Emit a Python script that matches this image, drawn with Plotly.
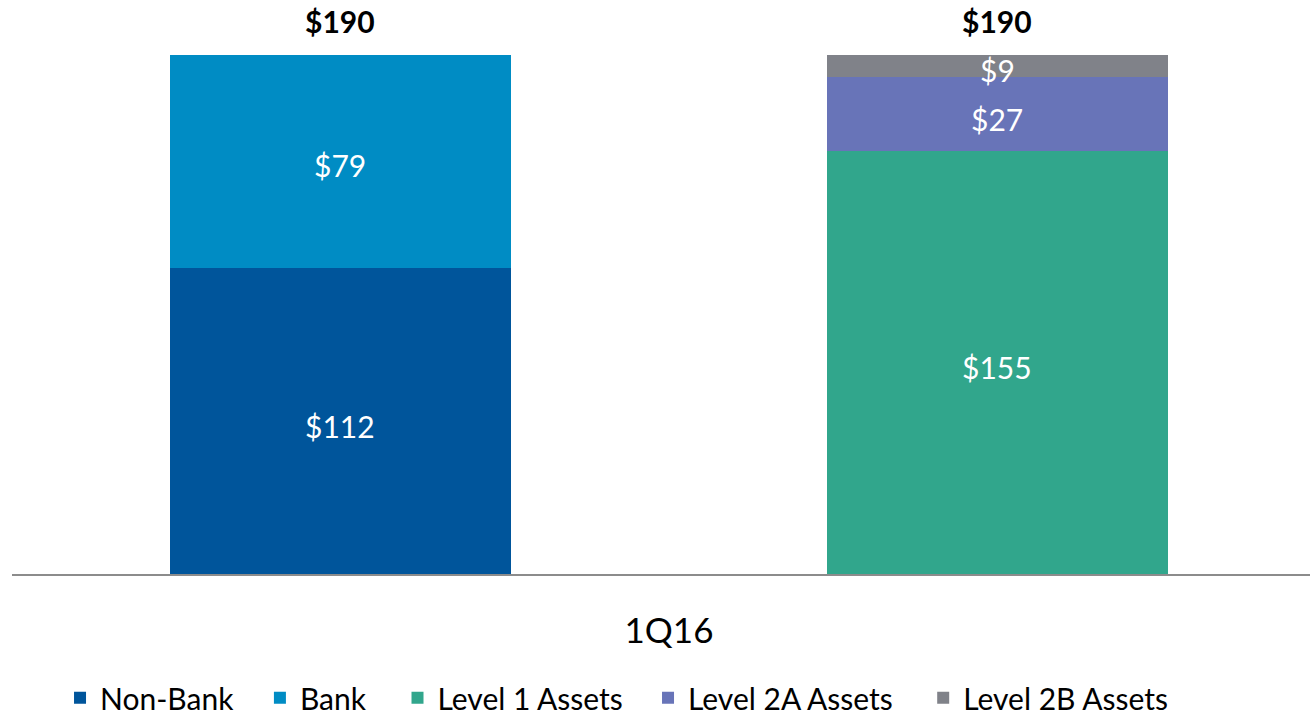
import plotly.graph_objects as go

x_label = ["1Q16"]
series = {
    "Non-Bank": [112, None],
    "Bank": [79, None],
    "Level 1 Assets": [None, 155],
    "Level 2A Assets": [None, 27],
    "Level 2B Assets": [None, 9],
}
totals = [190, 190]
colors = {
    "Non-Bank": "#00559B",
    "Bank": "#008CC4",
    "Level 1 Assets": "#31A68C",
    "Level 2A Assets": "#6874B8",
    "Level 2B Assets": "#808289",
}

FONT = "Lato"
xpos = [0, 1]
fig = go.Figure()
annotations = []
cum = [0, 0]
legend_x = [0.037, 0.191, 0.297, 0.490, 0.702]
legend_ids = ["legend", "legend2", "legend3", "legend4", "legend5"]
for k, (name, vals) in enumerate(series.items()):
    fig.add_trace(go.Bar(
        x=xpos, y=[v if v is not None else 0 for v in vals], name=name,
        marker=dict(color=colors[name], line=dict(width=0)),
        width=0.519, hoverinfo="skip", legend=legend_ids[k],
    ))
    for i, v in enumerate(vals):
        if v is not None:
            annotations.append(dict(
                x=xpos[i], y=cum[i] + v / 2, xref="x", yref="y",
                text=f"${v}", showarrow=False, yshift=-5,
                font=dict(family=FONT, size=30, color="white"),
            ))
            cum[i] += v

for i, t in enumerate(totals):
    annotations.append(dict(
        x=xpos[i], y=t, xref="x", yref="y", text=f"<b>${t}</b>",
        showarrow=False, yanchor="bottom", yshift=14,
        font=dict(family=FONT, size=30, color="black"),
    ))

legend_layout = {}
for k, lid in enumerate(legend_ids):
    legend_layout[lid] = dict(
        orientation="h", x=legend_x[k], xanchor="left",
        yref="container", y=0.024, yanchor="middle",
        font=dict(family=FONT, size=30, color="black"),
        itemwidth=30, bgcolor="rgba(0,0,0,0)", borderwidth=0,
    )

fig.update_layout(
    barmode="stack",
    width=1310, height=715,
    margin=dict(l=12, r=0, t=55, b=141, autoexpand=False),
    plot_bgcolor="white", paper_bgcolor="white",
    font=dict(family=FONT, color="black"),
    annotations=annotations,
    showlegend=True,
    bargap=0,
    **legend_layout,
)
fig.update_xaxes(range=[-0.5, 1.4757], tickvals=[0.5], ticktext=x_label,
                 tickfont=dict(family=FONT, size=35, color="black"),
                 showline=True, linecolor="#8C8C8C", linewidth=2,
                 showgrid=False, zeroline=False, ticks="", ticklabelstandoff=25)
fig.update_yaxes(range=[0, 190], visible=False, showgrid=False, zeroline=False)

fig.write_html("out.html", config={"displayModeBar": False},
               post_script="document.body.style.margin='0';document.body.style.overflow='hidden';")
